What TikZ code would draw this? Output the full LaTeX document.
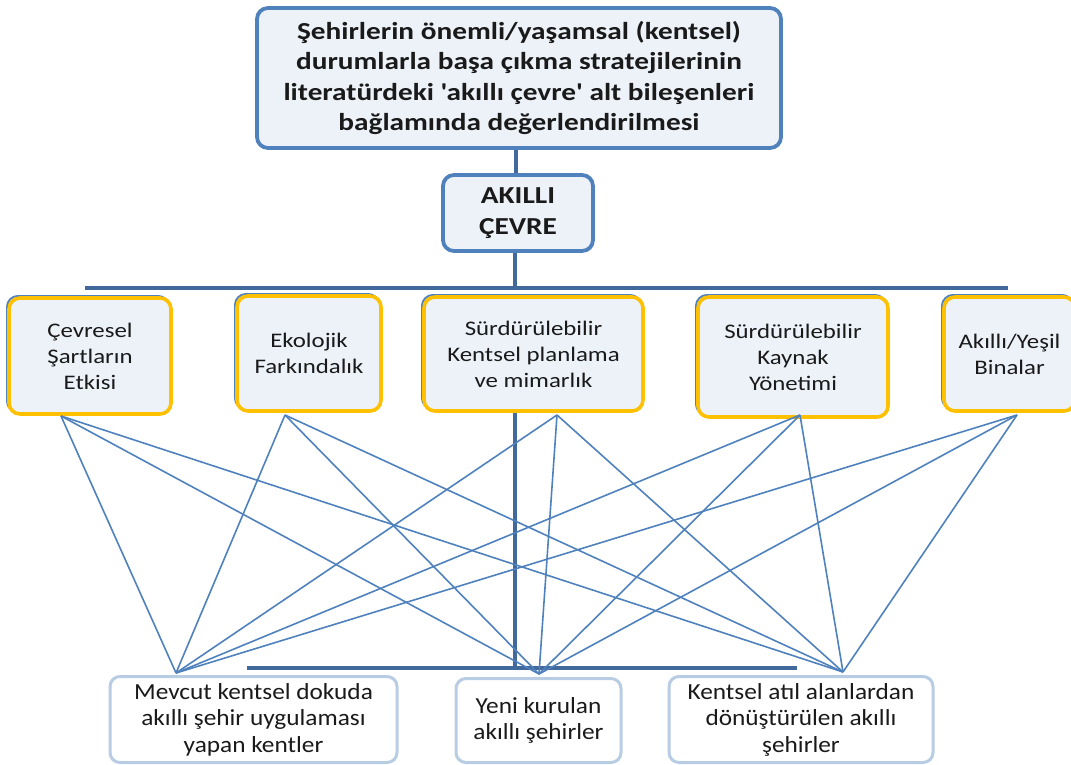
\documentclass[tikz,border=0pt]{standalone}
\usepackage{fontspec}
\setmainfont{Carlito}
\newfontfamily\widefont{Carlito}[FakeStretch=1.2]
\newfontfamily\midfont{Carlito}[FakeStretch=1.1]
\usetikzlibrary{shadows}
\definecolor{thinblue}{HTML}{4F81BD}
\definecolor{thickblue}{HTML}{41699B}
\definecolor{boxfill}{HTML}{EDF2F9}
\definecolor{gold}{HTML}{FFC000}
\definecolor{lightborder}{HTML}{B8CCE4}
\definecolor{txt}{HTML}{1A1A1A}
\tikzset{
  titlebox/.style={draw=thinblue, line width=3.8pt, fill=boxfill, rounded corners=11pt,
    inner sep=0pt, align=center, text=txt,
    font=\widefont\fontsize{24.4}{30.5}\selectfont\bfseries},
  catbox/.style={draw=gold, line width=3.6pt, fill=boxfill, rounded corners=11pt,
    inner sep=0pt, align=center, text=txt,
    general shadow={shadow xshift=-2pt, shadow yshift=2pt, draw=thinblue, line width=2pt, fill=none},
    font=\widefont\fontsize{20.7}{26}\selectfont},
  citybox/.style={draw=lightborder, line width=3pt, fill=white, rounded corners=10pt,
    inner sep=0pt, align=center, text=txt,
    font=\midfont\fontsize{23}{26.5}\selectfont},
  trunk/.style={draw=thickblue, line width=4.5pt},
  link/.style={draw=thinblue, line width=1.6pt},
}
\begin{document}
\begin{tikzpicture}[x=1pt,y=-1pt]
\useasboundingbox (0,0) rectangle (1071,765);

\coordinate (busL) at (85,288);
\coordinate (busR) at (1008,288);
\coordinate (lbusL) at (247,668);
\coordinate (lbusR) at (797,668);

\node[titlebox, minimum width=524pt, minimum height=140pt] (top) at (519,78)
  {Şehirlerin önemli/yaşamsal (kentsel)\\durumlarla başa çıkma stratejilerinin\\literatürdeki 'akıllı çevre' alt bileşenleri\\bağlamında değerlendirilmesi};

\draw[trunk] ([xshift=-3pt]top.south) -- ++(0,30);

\node[titlebox, minimum width=150pt, minimum height=76pt] (ak) at (518,213)
  {AKILLI\\ÇEVRE};

\draw[trunk] ([xshift=-3pt]ak.south) -- ([xshift=-3pt]ak.south |- busL);
\draw[trunk] (busL) -- (busR);

\node[catbox, minimum width=162pt, minimum height=116pt] (m1) at (90,356)
  {Çevresel\\Şartların\\Etkisi};
\node[catbox, minimum width=144pt, minimum height=115pt] (m2) at (309,353.5)
  {Ekolojik\\Farkındalık};
\node[catbox, minimum width=219pt, minimum height=114pt] (m3) at (533.5,354)
  {Sürdürülebilir\\Kentsel planlama\\ve mimarlık};
\node[catbox, minimum width=190pt, minimum height=120pt] (m4) at (793,357)
  {Sürdürülebilir\\Kaynak\\Yönetimi};
\node[catbox, minimum width=131pt, minimum height=114pt] (m5) at (1009.5,354)
  {Akıllı/Yeşil\\Binalar};

\draw[trunk] ([xshift=-18.5pt]m3.south) -- ([xshift=-18.5pt]m3.south |- lbusL);
\draw[trunk] (lbusL) -- (lbusR);

\coordinate (t1) at (61,416);
\coordinate (t2) at (285,415);
\coordinate (t3) at (557,415);
\coordinate (t4) at (800,415);
\coordinate (t5) at (1017,415);
\coordinate (p1) at (176,673);
\coordinate (p2) at (539,674);
\coordinate (p3) at (843,672);

\foreach \t in {t1,t2,t3,t4,t5}
  \foreach \p in {p1,p2,p3}
    \draw[link] (\t) -- (\p);

\node[citybox, minimum width=287pt, minimum height=86pt] (b1) at (253.5,719.5)
  {Mevcut kentsel dokuda\\akıllı şehir uygulaması\\yapan kentler};
\node[citybox, minimum width=165pt, minimum height=84pt] (b2) at (538.5,720.5)
  {Yeni kurulan\\akıllı şehirler};
\node[citybox, minimum width=264pt, minimum height=86pt] (b3) at (801,719.5)
  {Kentsel atıl alanlardan\\dönüştürülen akıllı\\şehirler};
\end{tikzpicture}
\end{document}
